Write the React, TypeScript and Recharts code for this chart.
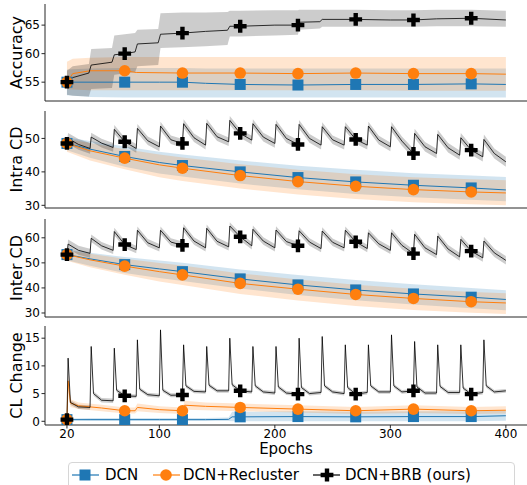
import React from 'react';
import { ComposedChart, Line, Area, XAxis, YAxis, Legend } from 'recharts';

const BLUE = '#1f77b4';
const ORANGE = '#ff7f0e';
const BLACK = '#000000';
const AXIS = '#262626';
const FONT = "'DejaVu Sans', sans-serif";

// ---------- shared ----------
const xTicks = [20, 100, 200, 300, 400];
const markerEpochs = [20, 70, 120, 170, 220, 270, 320, 370];
const cycleStarts = [20, 40, 60, 80, 100, 120, 140, 160, 180, 200, 220, 240, 260, 280, 300, 320, 340, 360, 380];
const sampleEpochs = [20, 40, 70, 100, 120, 170, 220, 270, 320, 370, 400];

// ---------- Accuracy ----------
const accTicks = [55, 60, 65];
const accBlueEpochs = [20, 40, 70, 100, 120, 140, 170, 220, 270, 320, 370, 400];
const accBlue = [55.0, 55.0, 55.0, 55.0, 55.0, 54.8, 54.6, 54.5, 54.6, 54.6, 54.7, 54.6];
const accBlueLow = [52.7, 52.4, 52.3, 52.3, 52.3, 52.3, 52.3, 52.3, 52.3, 52.3, 52.3, 52.3];
const accBlueHigh = [57.2, 57.4, 57.5, 57.5, 57.5, 57.4, 57.4, 57.4, 57.4, 57.4, 57.4, 57.4];
const accOrangeEpochs = [20, 25, 40, 70, 80, 120, 170, 220, 270, 320, 370, 400];
const accOrange = [55.0, 56.5, 57.0, 57.0, 56.7, 56.6, 56.6, 56.5, 56.6, 56.5, 56.5, 56.4];
const accOrangeLow = [53.8, 53.7, 53.6, 53.6, 53.6, 53.6, 53.6, 53.6, 53.6, 53.5, 53.5, 53.5];
const accOrangeHigh = [58.6, 59.1, 59.3, 59.4, 59.4, 59.4, 59.4, 59.4, 59.4, 59.4, 59.4, 59.4];
const accBlackEpochs = [20, 25, 39, 41, 59, 61, 70, 79, 81, 99, 101, 120, 140, 159, 161, 170, 200, 220, 221, 239, 241, 270, 300, 320, 340, 370, 400];
const accBlack = [55.0, 55.8, 56.6, 58.0, 58.5, 59.8, 60.0, 60.3, 61.7, 61.9, 63.4, 63.6, 63.9, 64.1, 64.8, 64.8, 65.0, 65.0, 65.5, 65.6, 66.0, 66.0, 65.9, 65.9, 66.1, 66.2, 65.9];
const accBlackLow = [52.8, 52.6, 52.5, 53.8, 54.0, 56.3, 56.5, 56.8, 57.8, 58.0, 61.0, 61.1, 61.3, 61.5, 63.0, 63.0, 63.2, 63.3, 64.2, 64.4, 64.7, 64.7, 64.7, 64.7, 64.8, 64.8, 64.7];
const accBlackHigh = [57.0, 57.8, 58.2, 60.8, 61.0, 63.2, 63.4, 63.6, 64.2, 64.3, 67.1, 67.2, 67.2, 67.3, 67.5, 67.5, 67.6, 67.6, 67.7, 67.7, 67.7, 67.7, 67.6, 67.6, 67.7, 67.7, 67.5];

// ---------- Intra CD ----------
const intraTicks = [30, 40, 50];
const intraBlue = [48.5, 46.8, 44.6, 42.8, 41.9, 40.0, 38.3, 37.0, 36.0, 35.2, 34.6];
const intraBlueLow = [46.5, 44.2, 41.5, 39.5, 38.6, 36.5, 34.8, 33.4, 32.4, 31.7, 31.2];
const intraBlueHigh = [50.3, 49.2, 47.6, 46.0, 45.2, 43.4, 41.8, 40.6, 39.6, 38.9, 38.5];
const intraOrange = [48.5, 46.3, 44.1, 42.1, 41.1, 38.9, 37.1, 35.7, 34.7, 34.0, 33.7];
const intraOrangeLow = [46.0, 43.4, 40.8, 38.4, 37.3, 35.0, 33.2, 31.9, 30.9, 30.3, 30.0];
const intraOrangeHigh = [49.8, 48.6, 46.8, 45.2, 44.3, 42.3, 40.6, 39.3, 38.4, 37.8, 37.5];
const intraStart = 48.5;
const intraPeak = [50.0, 50.4, 52.7, 53.0, 53.7, 54.4, 54.5, 55.4, 54.4, 54.2, 54.2, 53.5, 53.5, 53.7, 53.5, 51.5, 51.2, 50.2, 49.7];
const intraMid = [48.2, 48.6, 49.0, 49.3, 49.6, 50.2, 50.5, 51.5, 50.4, 50.0, 50.0, 49.6, 49.7, 49.5, 49.2, 47.5, 47.2, 46.5, 45.5];
const intraEnd = [47.0, 47.3, 47.0, 47.5, 48.5, 48.0, 49.0, 49.5, 48.5, 48.2, 48.0, 48.0, 48.0, 47.5, 45.5, 45.5, 45.0, 44.5, 43.0];
const intraSpread = [1.6, 1.3, 1.3, 1.3, 1.3, 1.3, 1.3, 1.3, 1.3, 1.3, 1.3, 1.3, 1.3, 1.3, 1.4, 1.4, 1.4, 1.4, 1.5];

// ---------- Inter CD ----------
const interTicks = [30, 40, 50, 60];
const interBlue = [53.3, 51.6, 49.3, 47.6, 46.5, 43.6, 41.2, 39.2, 37.6, 36.3, 35.4];
const interBlueLow = [51.0, 48.8, 46.0, 44.0, 42.8, 39.8, 37.2, 35.1, 33.4, 31.9, 31.1];
const interBlueHigh = [55.2, 54.0, 52.3, 50.9, 50.0, 47.4, 45.2, 43.2, 41.5, 40.0, 39.1];
const interOrange = [53.3, 51.2, 48.7, 46.5, 45.2, 41.8, 39.5, 37.4, 35.8, 34.5, 34.0];
const interOrangeLow = [50.8, 48.2, 45.3, 42.6, 41.2, 37.6, 35.0, 32.8, 31.2, 30.1, 29.6];
const interOrangeHigh = [55.0, 53.6, 51.6, 49.9, 48.9, 45.8, 43.4, 41.3, 39.7, 38.4, 37.9];
const interStart = 53.3;
const interPeak = [57.5, 59.8, 62.5, 63.0, 63.0, 64.0, 63.8, 64.7, 63.4, 63.1, 62.8, 62.7, 63.0, 62.0, 62.0, 61.4, 60.7, 59.4, 58.7];
const interMid = [55.0, 56.8, 57.3, 58.0, 58.3, 58.7, 58.6, 60.4, 58.7, 58.5, 58.3, 58.2, 58.4, 57.6, 57.0, 56.0, 55.5, 54.7, 54.0];
const interEnd = [53.8, 55.0, 55.3, 56.0, 57.0, 56.0, 56.4, 56.8, 56.0, 56.8, 55.7, 56.0, 55.7, 55.0, 53.7, 53.3, 52.4, 52.0, 51.0];
const interSpread = [1.8, 1.5, 1.5, 1.5, 1.5, 1.5, 1.5, 1.5, 1.5, 1.5, 1.5, 1.5, 1.5, 1.5, 1.6, 1.6, 1.6, 1.6, 1.7];

// ---------- CL Change ----------
const clTicks = [0, 5, 10, 15];
const clBlueEpochs = [20, 40, 70, 100, 120, 140, 160, 163, 170, 220, 270, 320, 370, 400];
const clBlue = [0.3, 0.3, 0.3, 0.3, 0.3, 0.3, 0.35, 0.8, 0.8, 0.85, 0.8, 0.85, 0.85, 1.0];
const clBlueLow = [0.1, 0.05, 0.05, 0.05, 0.05, 0.05, 0.05, 0.0, 0.0, 0.0, 0.0, 0.0, 0.0, 0.1];
const clBlueHigh = [0.5, 0.6, 0.6, 0.6, 0.6, 0.6, 0.7, 1.7, 1.7, 1.8, 1.7, 1.8, 1.8, 1.9];
const clOrangeEpochs = [20, 21, 23, 30, 50, 70, 79, 81, 100, 120, 122, 140, 170, 220, 270, 320, 370, 400];
const clOrange = [0.3, 7.3, 3.3, 2.8, 2.4, 1.9, 1.9, 2.5, 2.1, 1.9, 2.9, 2.7, 2.5, 2.2, 1.9, 2.2, 1.9, 2.0];
const clOrangeLow = [0.2, 6.0, 2.6, 2.2, 1.8, 1.4, 1.4, 1.8, 1.5, 1.3, 2.1, 2.0, 1.8, 1.6, 1.3, 1.5, 1.3, 1.4];
const clOrangeHigh = [0.4, 8.6, 4.0, 3.4, 3.0, 2.5, 2.5, 3.2, 2.7, 2.5, 3.7, 3.4, 3.2, 2.9, 2.6, 2.9, 2.6, 2.7];
const clStart = 0.3;
const clPeak = [11.4, 13.5, 13.2, 14.7, 16.5, 13.8, 13.5, 15.0, 13.5, 13.5, 15.0, 15.3, 13.8, 13.8, 15.6, 14.4, 13.8, 13.8, 14.7];
const clShoulder = [3.4, 5.0, 5.6, 5.8, 5.6, 6.4, 6.5, 6.6, 6.4, 6.2, 6.1, 6.4, 6.1, 6.4, 6.4, 6.2, 6.3, 6.0, 6.4];
const clMid = [2.6, 3.8, 4.6, 4.8, 4.7, 5.4, 5.5, 5.5, 5.3, 5.1, 5.0, 5.3, 4.9, 5.3, 5.3, 5.1, 5.2, 4.9, 5.3];
const clEnd = [2.5, 3.7, 4.5, 4.6, 4.75, 5.3, 5.5, 5.3, 5.1, 4.9, 5.2, 5.0, 5.2, 5.3, 5.5, 5.1, 5.2, 5.2, 5.5];
const clSpread = [0.4, 0.4, 0.35, 0.35, 0.35, 0.35, 0.35, 0.35, 0.35, 0.35, 0.35, 0.35, 0.35, 0.35, 0.35, 0.35, 0.35, 0.35, 0.35];

// ---------- helpers ----------
type S = { epochs: number[]; mean: number[]; low: number[]; high: number[] };

function mk(epochs: number[], mean: number[], low: number[], high: number[]): S {
  return { epochs, mean, low, high };
}

function sawtooth(start: number, offsets: number[], levels: number[][], spread: number[]): S {
  const epochs = [20];
  const mean = [start];
  const low = [start - spread[0] * 0.5];
  const high = [start + spread[0] * 0.5];
  cycleStarts.forEach((s, i) => {
    offsets.forEach((off, j) => {
      const v = levels[j][i];
      epochs.push(s + off);
      mean.push(v);
      low.push(v - spread[i]);
      high.push(v + spread[i]);
    });
  });
  return { epochs, mean, low, high };
}

const lineData = (s: S) => s.epochs.map((epoch, i) => ({ epoch, v: s.mean[i] }));
const bandData = (s: S) => s.epochs.map((epoch, i) => ({ epoch, band: [s.low[i], s.high[i]] }));

type Kind = 'square' | 'circle' | 'plus';

function Marker({ kind, cx, cy, color }: { kind: Kind; cx: number; cy: number; color: string }) {
  if (kind === 'square') return <rect x={cx - 5.5} y={cy - 5.5} width={11} height={11} fill={color} />;
  if (kind === 'circle') return <circle cx={cx} cy={cy} r={5.8} fill={color} />;
  const a = 6.4;
  const t = 2.2;
  const pts = [
    [-t, -a], [t, -a], [t, -t], [a, -t], [a, t], [t, t],
    [t, a], [-t, a], [-t, t], [-a, t], [-a, -t], [-t, -t],
  ].map(([x, y]) => `${cx + x},${cy + y}`).join(' ');
  return <polygon points={pts} fill={color} />;
}

const dotFor = (kind: Kind, color: string) => (props: any) => {
  const { cx, cy, payload, index } = props;
  const k = `${kind}-${index}`;
  if (cx == null || cy == null || !payload || markerEpochs.indexOf(payload.epoch) < 0) return <g key={k} />;
  return (
    <g key={k}>
      <Marker kind={kind} cx={cx} cy={cy} color={color} />
    </g>
  );
};

const yLabelRenderer = (text: string, cy: number) => () => (
  <text x={16} y={cy} transform={`rotate(-90 16 ${cy})`} textAnchor="middle" dominantBaseline="central"
    fontSize={16} fontFamily={FONT} fill="#000">{text}</text>
);

// chart-relative coordinates of the x-axis title in the last panel (baseline)
const epochsLabel = () => (
  <text x={286} y={134} textAnchor="middle" fontSize={15} fontFamily={FONT} fill="#000">Epochs</text>
);

function LegendBox() {
  const items: { name: string; color: string; kind: Kind; l0: number; mx: number; tx: number }[] = [
    { name: 'DCN', color: BLUE, kind: 'square', l0: 3, mx: 16, tx: 36 },
    { name: 'DCN+Recluster', color: ORANGE, kind: 'circle', l0: 84, mx: 97, tx: 114 },
    { name: 'DCN+BRB (ours)', color: BLACK, kind: 'plus', l0: 244, mx: 258, tx: 276 },
  ];
  return (
    <div style={{ width: 447, height: 32, boxSizing: 'border-box', border: '1px solid #d6d6d6', borderRadius: 4, background: '#fff' }}>
      <svg width={445} height={30} style={{ display: 'block' }}>
        {items.map((it) => (
          <g key={it.name}>
            <line x1={it.l0} x2={it.l0 + 27} y1={12} y2={12} stroke={it.color} strokeWidth={1.2} />
            <Marker kind={it.kind} cx={it.mx} cy={12} color={it.color} />
            <text x={it.tx} y={12} dominantBaseline="central" fontSize={15} fontFamily={FONT} fill="#000">{it.name}</text>
          </g>
        ))}
      </svg>
    </div>
  );
}

type PanelProps = {
  top: number;
  plotH: number;
  yDomain: [number, number];
  yTicks: number[];
  yLabel: string;
  blue: S;
  orange: S;
  black: S;
  last?: boolean;
};

function Panel({ top, plotH, yDomain, yTicks, yLabel, blue, orange, black, last }: PanelProps) {
  const mt = 6;
  const xH = last ? 35 : 1;
  const mb = last ? 25 : 8;
  const height = mt + plotH + xH + mb;
  return (
    <div style={{ position: 'absolute', left: 0, top: top - mt }}>
      <ComposedChart width={527} height={height} margin={{ top: mt, right: 0, bottom: mb, left: 0 }} style={{ overflow: 'visible' }}>
        <XAxis
          type="number"
          dataKey="epoch"
          domain={[1, 418.3]}
          allowDataOverflow
          ticks={xTicks}
          interval={0}
          height={xH}
          axisLine={{ stroke: AXIS, strokeWidth: 1 }}
          tick={last ? { fontSize: 12, fill: '#000', fontFamily: FONT } : false}
          tickLine={last ? { stroke: AXIS } : false}
          tickSize={3.5}
          tickMargin={0.5}
          label={last ? epochsLabel : undefined}
        />
        <YAxis
          type="number"
          domain={yDomain}
          allowDataOverflow
          ticks={yTicks}
          interval={0}
          width={45}
          axisLine={{ stroke: AXIS, strokeWidth: 1 }}
          tickLine={{ stroke: AXIS }}
          tickSize={3.5}
          tickMargin={1.5}
          tick={{ fontSize: 12, fill: '#000', fontFamily: FONT }}
          label={yLabelRenderer(yLabel, mt + plotH / 2)}
        />
        <Area data={bandData(blue)} dataKey="band" type="linear" stroke="none" fill={BLUE} fillOpacity={0.2}
          isAnimationActive={false} dot={false} activeDot={false} legendType="none" />
        <Area data={bandData(orange)} dataKey="band" type="linear" stroke="none" fill={ORANGE} fillOpacity={0.2}
          isAnimationActive={false} dot={false} activeDot={false} legendType="none" />
        <Area data={bandData(black)} dataKey="band" type="linear" stroke="none" fill={BLACK} fillOpacity={0.2}
          isAnimationActive={false} dot={false} activeDot={false} legendType="none" />
        <Line data={lineData(blue)} dataKey="v" name="DCN" type="linear" stroke={BLUE} strokeWidth={1}
          dot={dotFor('square', BLUE)} activeDot={false} isAnimationActive={false} />
        <Line data={lineData(orange)} dataKey="v" name="DCN+Recluster" type="linear" stroke={ORANGE} strokeWidth={1}
          dot={dotFor('circle', ORANGE)} activeDot={false} isAnimationActive={false} />
        <Line data={lineData(black)} dataKey="v" name="DCN+BRB (ours)" type="linear" stroke={BLACK} strokeWidth={0.8}
          dot={dotFor('plus', BLACK)} activeDot={false} isAnimationActive={false} />
        {last && (
          <Legend
            layout="horizontal"
            verticalAlign="middle"
            align="center"
            content={() => <LegendBox />}
            wrapperStyle={{ left: 68, top: 462 - (326 - mt), width: 447, height: 32 }}
          />
        )}
      </ComposedChart>
    </div>
  );
}

export default function App() {
  const accB = mk(accBlueEpochs, accBlue, accBlueLow, accBlueHigh);
  const accO = mk(accOrangeEpochs, accOrange, accOrangeLow, accOrangeHigh);
  const accK = mk(accBlackEpochs, accBlack, accBlackLow, accBlackHigh);

  const intraB = mk(sampleEpochs, intraBlue, intraBlueLow, intraBlueHigh);
  const intraO = mk(sampleEpochs, intraOrange, intraOrangeLow, intraOrangeHigh);
  const intraK = sawtooth(intraStart, [1, 10, 20], [intraPeak, intraMid, intraEnd], intraSpread);

  const interB = mk(sampleEpochs, interBlue, interBlueLow, interBlueHigh);
  const interO = mk(sampleEpochs, interOrange, interOrangeLow, interOrangeHigh);
  const interK = sawtooth(interStart, [1, 10, 20], [interPeak, interMid, interEnd], interSpread);

  const clB = mk(clBlueEpochs, clBlue, clBlueLow, clBlueHigh);
  const clO = mk(clOrangeEpochs, clOrange, clOrangeLow, clOrangeHigh);
  const clK = sawtooth(clStart, [1, 3, 10, 20], [clPeak, clShoulder, clMid, clEnd], clSpread);

  return (
    <div style={{ position: 'absolute', left: 0, top: 0, width: 527, height: 485, overflow: 'hidden', background: '#fff', fontFamily: FONT }}>
      <Panel top={4} plotH={97} yDomain={[51.7, 68.7]} yTicks={accTicks} yLabel="Accuracy" blue={accB} orange={accO} black={accK} />
      <Panel top={111} plotH={97} yDomain={[29.2, 58.2]} yTicks={intraTicks} yLabel="Intra CD" blue={intraB} orange={intraO} black={intraK} />
      <Panel top={219} plotH={98} yDomain={[28.4, 67.5]} yTicks={interTicks} yLabel="Inter CD" blue={interB} orange={interO} black={interK} />
      <Panel top={326} plotH={99} yDomain={[-0.67, 17.2]} yTicks={clTicks} yLabel="CL Change" blue={clB} orange={clO} black={clK} last />
    </div>
  );
}
